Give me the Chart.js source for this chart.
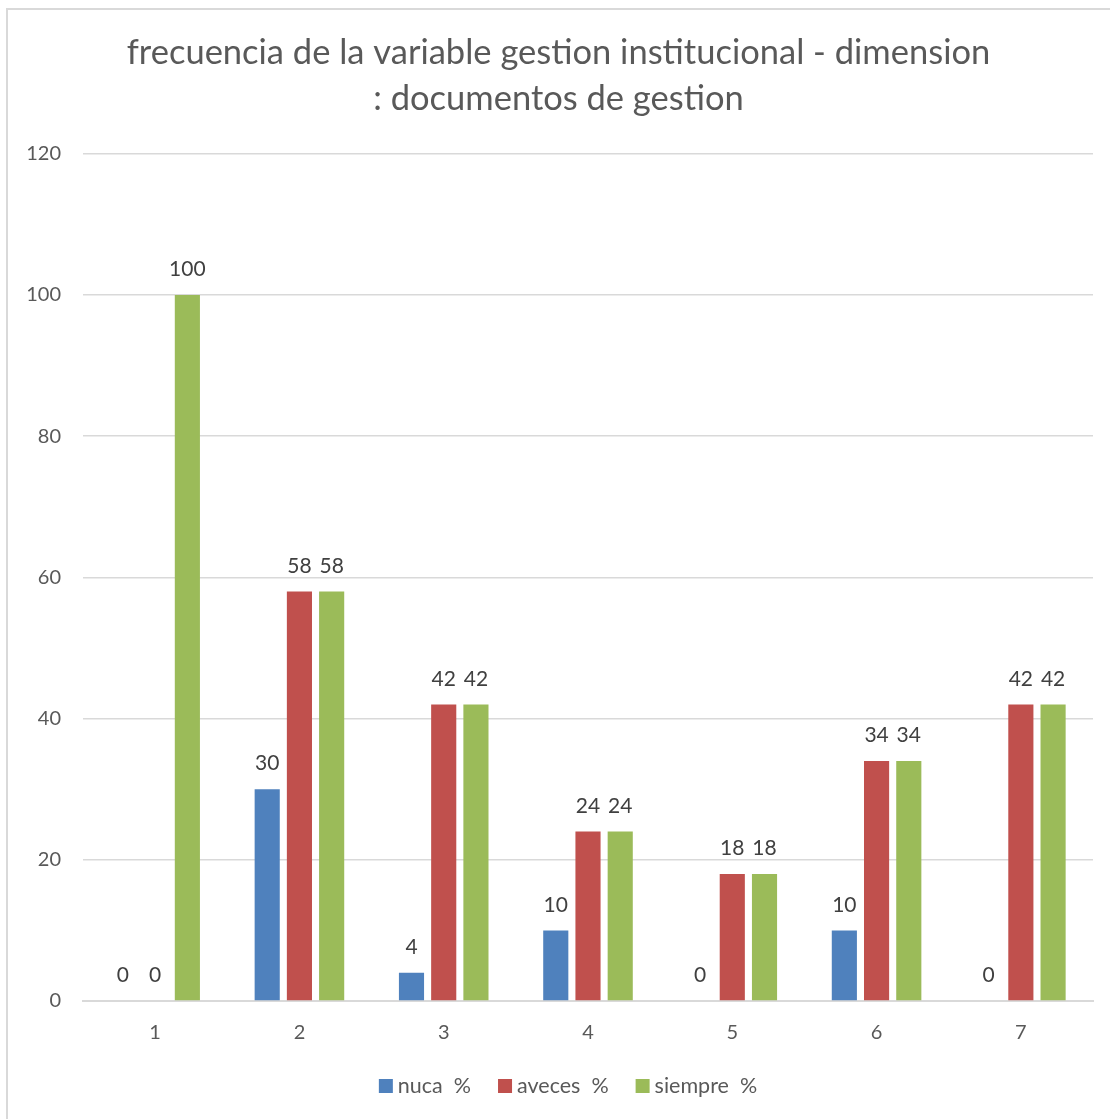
<!DOCTYPE html>
<html>
<head>
<meta charset="utf-8">
<script src="https://cdn.jsdelivr.net/npm/chart.js@4/dist/chart.umd.min.js"></script>
<style>
  html, body { margin: 0; padding: 0; background: #fff; }
  #wrap { position: absolute; left: 0; top: 0; width: 1110px; height: 1119px; }
</style>
</head>
<body>
<div id="wrap"><canvas id="chart" width="1110" height="1119"></canvas></div>
<script>
const categories = ['1', '2', '3', '4', '5', '6', '7'];
const nucaValues = [0, 30, 4, 10, 0, 10, 0];
const avecesValues = [0, 58, 42, 24, 18, 34, 42];
const siempreValues = [100, 58, 42, 24, 18, 34, 42];
const seriesNames = ['nuca  %', 'aveces  %', 'siempre  %'];
const seriesColors = ['#4f81bd', '#c0504d', '#9bbb59'];

const FONT = 'Lato, "Open Sans", sans-serif';

// value labels above the bars (zeros only where the original shows them)
const valueLabels = {
    id: 'valueLabels',
    afterDatasetsDraw(chart) {
        const ctx = chart.ctx;
        ctx.save();
        ctx.font = '21px ' + FONT;
        ctx.fillStyle = '#404040';
        ctx.textAlign = 'center';
        ctx.textBaseline = 'bottom';
        chart.data.datasets.forEach((ds, i) => {
            chart.getDatasetMeta(i).data.forEach((bar, j) => {
                const v = ds.data[j];
                if (v === 0 && i === 1 && j !== 0) return;
                if (v === 0 && i === 2) return;
                ctx.fillText(String(v), bar.x, bar.y - 15);
            });
        });
        ctx.restore();
    }
};

// legend row at the bottom, spaced like the original
const bottomLegend = {
    id: 'bottomLegend',
    afterDraw(chart) {
        const ctx = chart.ctx;
        const ds = chart.data.datasets;
        ctx.save();
        ctx.font = '21.5px ' + FONT;
        ctx.textBaseline = 'middle';
        const box = 14, gap = 5, sep = 27, cy = 1086;
        const widths = ds.map(d => ctx.measureText(d.label).width);
        let total = widths.reduce((a, w) => a + box + gap + w, 0) + sep * (ds.length - 1);
        let x = 568 - total / 2;
        ds.forEach((d, i) => {
            ctx.fillStyle = d.backgroundColor;
            ctx.fillRect(x, cy - box / 2, box, box);
            ctx.fillStyle = '#595959';
            ctx.fillText(d.label, x + box + gap, cy);
            x += box + gap + widths[i] + sep;
        });
        ctx.restore();
    }
};

const frame = {
    id: 'frame',
    beforeDraw(chart) {
        const ctx = chart.ctx;
        ctx.save();
        ctx.fillStyle = '#fff';
        ctx.fillRect(0, 0, chart.width, chart.height);
        ctx.strokeStyle = '#d9d9d9';
        ctx.lineWidth = 2;
        ctx.strokeRect(7, 9, 1200, 1200);
        ctx.restore();
    }
};

new Chart(document.getElementById('chart').getContext('2d'), {
    type: 'bar',
    data: {
        labels: categories,
        datasets: seriesNames.map((name, i) => ({
            label: name,
            data: [nucaValues, avecesValues, siempreValues][i],
            backgroundColor: seriesColors[i]
        }))
    },
    options: {
        responsive: false,
        animation: false,
        devicePixelRatio: 1,
        categoryPercentage: 0.67,
        barPercentage: 0.78,
        layout: { padding: { left: 24, right: 17, top: 30, bottom: 54 } },
        plugins: {
            title: {
                display: true,
                text: ['frecuencia de la variable gestion institucional - dimension', ': documentos de gestion'],
                color: '#595959',
                font: { family: FONT, size: 34.5, weight: 'normal', lineHeight: 1.33 },
                padding: { top: 0, bottom: 32 }
            },
            legend: { display: false },
            tooltip: { enabled: false }
        },
        scales: {
            x: {
                grid: { display: false, drawTicks: false },
                border: { color: '#d9d9d9', width: 2 },
                ticks: { color: '#595959', font: { family: FONT, size: 20 }, padding: 20 }
            },
            y: {
                min: 0,
                max: 120,
                grid: { color: '#d9d9d9', lineWidth: 1.5, drawTicks: false },
                border: { display: false },
                ticks: { stepSize: 20, color: '#595959', font: { family: FONT, size: 20 }, padding: 22 },
                afterFit(scale) { scale.width = 59; }
            }
        }
    },
    plugins: [frame, valueLabels, bottomLegend]
});
</script>
</body>
</html>
